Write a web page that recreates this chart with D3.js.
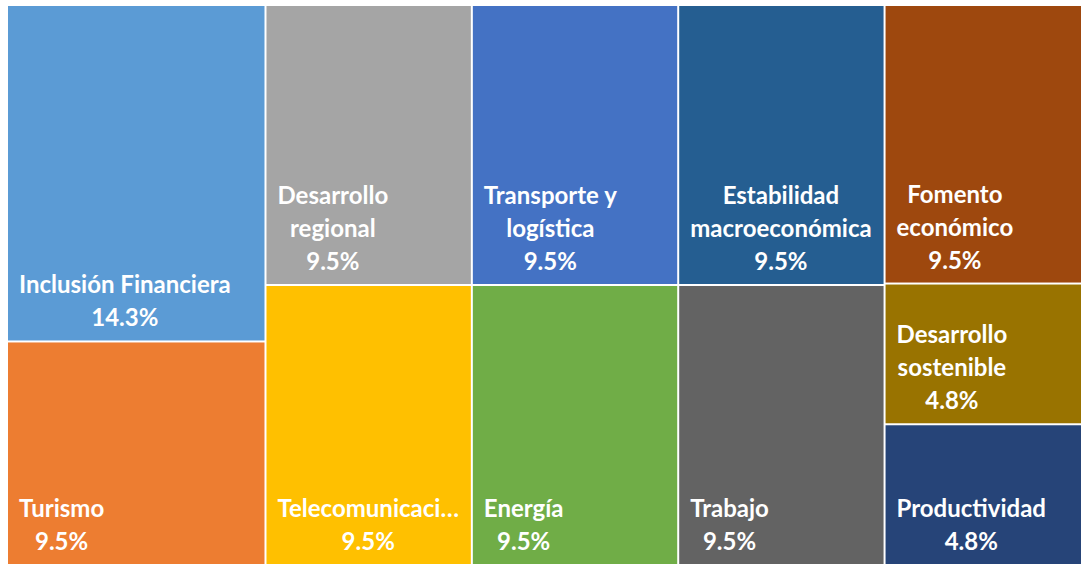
<!DOCTYPE html>
<html>
<head>
<meta charset="utf-8">
<script src="https://cdn.jsdelivr.net/npm/d3@7"></script>
<style>
  body { margin: 0; background: #fff; }
  svg { display: block; }
</style>
</head>
<body>
<svg id="chart" width="1081" height="564"></svg>
<script>
// categories, shares (percent) and which column of the treemap they sit in
const categories = ["Inclusión Financiera", "Turismo", "Desarrollo regional", "Telecomunicaciones",
    "Transporte y logística", "Energía", "Estabilidad macroeconómica", "Trabajo",
    "Fomento económico", "Desarrollo sostenible", "Productividad"];
const shares = [14.3, 9.5, 9.5, 9.5, 9.5, 9.5, 9.5, 9.5, 9.5, 4.8, 4.8];
const columns = [0, 0, 1, 1, 2, 2, 3, 3, 4, 4, 4];
const colors = ["#5B9BD5", "#ED7D31", "#A5A5A5", "#FFC000", "#4472C4", "#70AD47",
    "#255E91", "#636363", "#9E480E", "#997300", "#264478"];

let svg = d3.select("#chart");
// the plot runs a little past the right edge of the picture
let margin = {top: 6, right: -10, bottom: 0, left: 8};
let width = +svg.attr("width") - margin.left - margin.right;
let height = +svg.attr("height") - margin.top - margin.bottom;
let g = svg.append("g").attr("transform", "translate(" + margin.left + "," + margin.top + ")");

let leaves = categories.map((c, i) => ({name: c, value: shares[i], color: colors[i], col: columns[i]}));
let tree = {children: d3.groups(leaves, d => d.col).map(([k, v]) => ({name: "col" + k, children: v}))};

let root = d3.hierarchy(tree).sum(d => d.value || 0);
d3.treemap()
    .size([width, height])
    .tile(d3.treemapSliceDice)
    .paddingInner(2)(root);

let cell = g.selectAll("g.cell")
    .data(root.leaves())
    .enter().append("g")
    .attr("class", "cell")
    .attr("transform", d => "translate(" + d.x0 + "," + d.y0 + ")");

cell.append("rect")
    .attr("width", d => d.x1 - d.x0)
    .attr("height", d => d.y1 - d.y0)
    .attr("fill", d => d.data.color);

let pad = 11, lineH = 33;

cell.each(function(d) {
    let node = d3.select(this);
    let w = d.x1 - d.x0, h = d.y1 - d.y0;
    let maxW = w - 2 * pad + 2;
    let label = node.append("text")
        .attr("fill", "#fff")
        .attr("font-family", "Lato, 'Open Sans', sans-serif")
        .attr("font-weight", "bold")
        .attr("font-size", 24)
        .attr("text-anchor", "middle");

    let measure = s => {
        let t = label.append("tspan").text(s);
        let len = t.node().getComputedTextLength();
        t.remove();
        return len;
    };

    // greedy word wrap, cut with an ellipsis when a word is too long
    let lines = [];
    let cur = "";
    d.data.name.split(" ").forEach(word => {
        let test = cur ? cur + " " + word : word;
        if (measure(test) <= maxW) { cur = test; return; }
        if (cur) lines.push(cur);
        cur = word;
    });
    if (cur) lines.push(cur);
    lines = lines.map(l => {
        if (measure(l) <= maxW) return l;
        let s = l;
        while (s.length > 1 && measure(s + "…") > maxW) s = s.slice(0, -1);
        return s + "…";
    });
    lines.push(d.data.value.toFixed(1) + "%");

    let blockW = d3.max(lines, measure);
    let cx = pad + blockW / 2;
    let lastY = h - 14;
    lines.forEach((l, i) => {
        label.append("tspan")
            .attr("x", cx)
            .attr("y", lastY - (lines.length - 1 - i) * lineH)
            .text(l);
    });
});
</script>
</body>
</html>
